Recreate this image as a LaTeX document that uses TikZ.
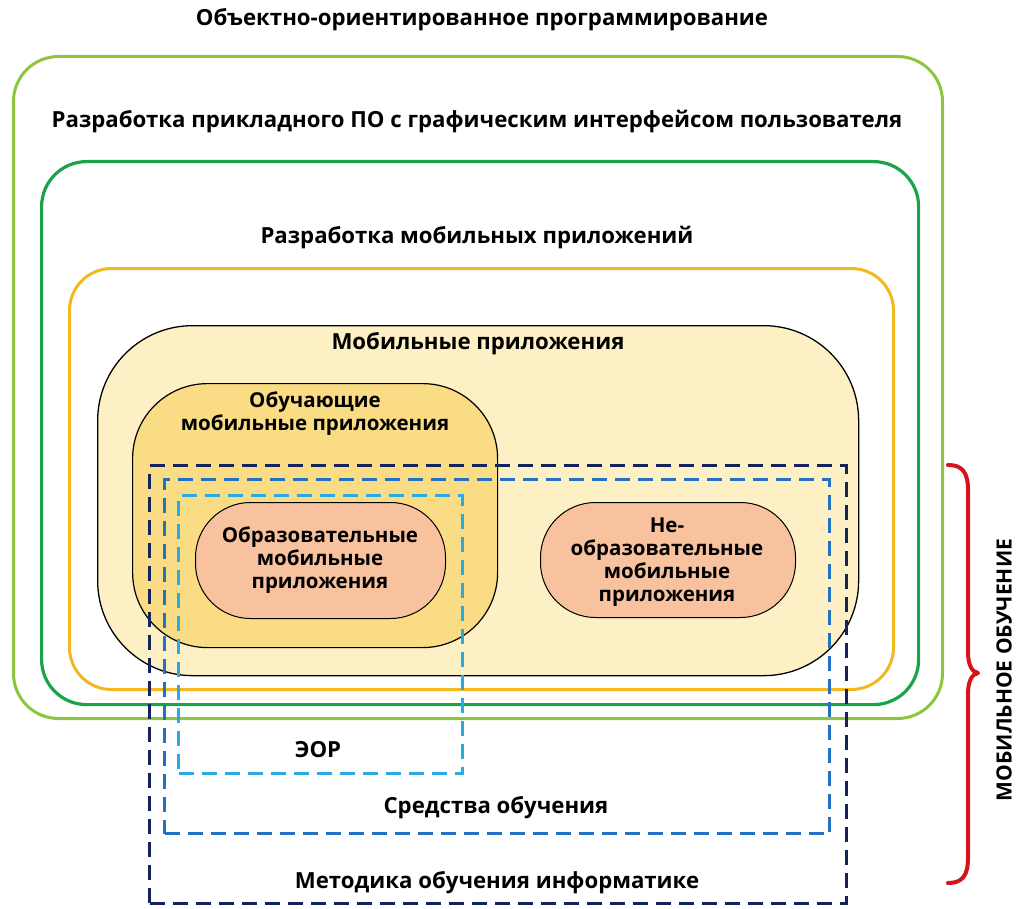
\documentclass[tikz,border=0pt]{standalone}
\usepackage{fontspec}
\setmainfont{Open Sans}
\definecolor{lgreen}{HTML}{8CC63F}
\definecolor{dgreen}{HTML}{1BA34A}
\definecolor{orng}{HTML}{F2B81F}
\definecolor{cream}{HTML}{FDF0C4}
\definecolor{ylw}{HTML}{FADC84}
\definecolor{salmon}{HTML}{F8C29E}
\definecolor{navy}{HTML}{14245A}
\definecolor{mblue}{HTML}{2271C2}
\definecolor{lblue}{HTML}{2AAAE2}
\definecolor{bred}{HTML}{D6141C}
\begin{document}
\begin{tikzpicture}[x=1pt,y=-1pt,
  box/.style={draw,rectangle,inner sep=0pt,anchor=north west},
  dbox/.style={box,line width=3pt,dash pattern=on 15pt off 8pt},
  lbl/.style={font=\fontsize{22.2pt}{26pt}\selectfont\bfseries,align=center,inner sep=0pt},
  ilbl/.style={font=\fontsize{20.5pt}{23pt}\selectfont\bfseries,align=center,inner sep=0pt}]
\useasboundingbox (0,0) rectangle (1024,909);
% nested rounded frames
\node[box,draw=lgreen,line width=3pt,rounded corners=45pt,minimum width=929pt,minimum height=662pt] (oop) at (12,55) {};
\node[box,draw=dgreen,line width=3.2pt,rounded corners=45pt,minimum width=877pt,minimum height=543pt] (gui) at (40,160) {};
\node[box,draw=orng,line width=3pt,rounded corners=42pt,minimum width=824pt,minimum height=421pt] (mdev) at (68,267) {};
\node[box,fill=cream,line width=1.3pt,rounded corners=95pt,minimum width=761pt,minimum height=350pt] (mapp) at (97,325) {};
\node[box,fill=ylw,line width=1.2pt,rounded corners=75pt,minimum width=365pt,minimum height=264pt] (teach) at (132,383) {};
\node[box,fill=salmon,line width=1pt,rounded corners=55pt,minimum width=250pt,minimum height=116pt] (edu) at (195,502) {};
\node[box,fill=salmon,line width=1pt,rounded corners=55pt,minimum width=255pt,minimum height=115pt] (nedu) at (540,502) {};
% dashed frames
\node[dbox,draw=navy,minimum width=697pt,minimum height=438pt] (meth) at (148,464) {};
\node[dbox,draw=mblue,minimum width=665pt,minimum height=354pt] (tool) at (163,478) {};
\node[dbox,draw=lblue,minimum width=284pt,minimum height=278pt] (eor) at (177,494) {};
% labels
\node[lbl] (t1) at (482,20) {Объектно-ориентированное программирование};
\node[lbl] (t2) at (477,122) {Разработка прикладного ПО с графическим интерфейсом пользователя};
\node[lbl] (t3) at (477,238) {Разработка мобильных приложений};
\node[lbl] (t4) at (478,344) {Мобильные приложения};
\node[ilbl] (t5) at (315,414) {Обучающие\\мобильные приложения};
\node[ilbl] (t6) at (320,560) {Образовательные\\мобильные\\приложения};
\node[ilbl] (t7) at (667,562) {Не-\\образовательные\\мобильные\\приложения};
\node[lbl] (t8) at (318,750) {ЭОР};
\node[lbl] (t9) at (496,808) {Средства обучения};
\node[lbl] (t10) at (497,883) {Методика обучения информатике};
% brace
\coordinate (bt) at (948,465);
\coordinate (bm) at (978,673);
\coordinate (bb) at (948,883);
\draw[bred,line width=4pt,line cap=round,line join=round]
  (bt) .. controls (962,465) and (968,472) .. (968,490) -- (968,652)
  .. controls (968,665) and (972,672) .. (bm)
  .. controls (972,674) and (968,681) .. (968,694) -- (968,858)
  .. controls (968,876) and (962,883) .. (bb);
\node[font=\fontsize{21pt}{24pt}\selectfont\bfseries,inner sep=0pt,rotate=90] (mob) at (1004,670) {МОБИЛЬНОЕ ОБУЧЕНИЕ};
\end{tikzpicture}
\end{document}
